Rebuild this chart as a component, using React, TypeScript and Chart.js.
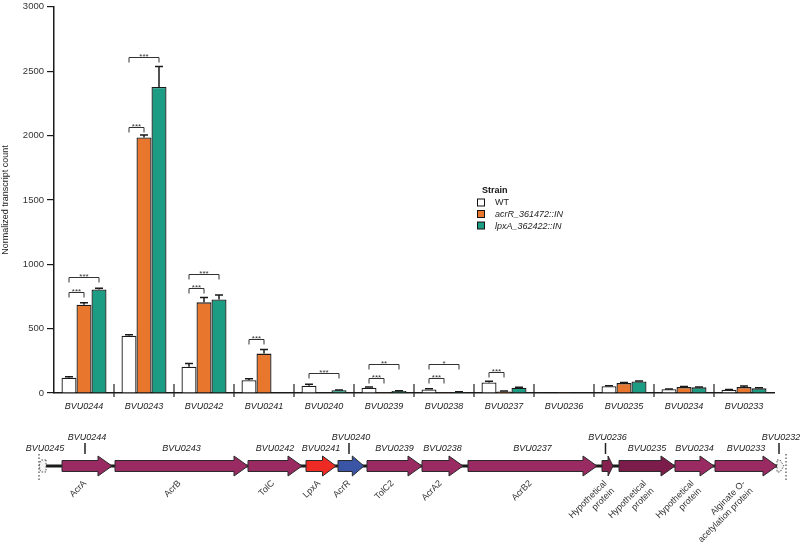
import { useEffect, useRef } from 'react';
import { Chart, registerables } from 'chart.js';

Chart.register(...registerables);

// ---------------- data ----------------
const categories = ['BVU0244', 'BVU0243', 'BVU0242', 'BVU0241', 'BVU0240', 'BVU0239', 'BVU0238', 'BVU0237', 'BVU0236', 'BVU0235', 'BVU0234', 'BVU0233'];
const seriesNames = ['WT', 'acrR_361472::IN', 'lpxA_362422::IN'];
const wtValues = [118, 445, 204, 99, 56, 41, 28, 82, 2, 52, 29, 25];
const acrRValues = [686, 1985, 704, 306, 0, 1, 1, 12, 1, 77, 46, 46];
const lpxAValues = [804, 2377, 726, null, 21, 15, 8, 41, 3, 90, 44, 36];
const wtErrors = [8, 8, 26, 12, 11, 5, 5, 10, 0, 5, 3, 3];
const acrRErrors = [15, 20, 38, 31, 0, 0, 0, 3, 0, 4, 4, 8];
const lpxAErrors = [10, 160, 36, 0, 3, 3, 2, 3, 0, 4, 3, 5];
const yTickValues = [0, 500, 1000, 1500, 2000, 2500, 3000];

// significance brackets
const bracketCategory = ['BVU0244', 'BVU0244', 'BVU0243', 'BVU0243', 'BVU0242', 'BVU0242', 'BVU0241', 'BVU0240', 'BVU0239', 'BVU0239', 'BVU0238', 'BVU0238', 'BVU0237'];
const bracketFrom = [0, 0, 0, 0, 0, 0, 0, 0, 0, 0, 0, 0, 0];
const bracketTo = [1, 2, 1, 2, 1, 2, 1, 2, 1, 2, 1, 2, 1];
const bracketLevel = [786, 900, 2066, 2611, 815, 928, 422, 152, 118, 229, 118, 229, 162];
const bracketLabel = ['***', '***', '***', '***', '***', '***', '***', '***', '***', '**', '***', '*', '***'];

// gene map (map units)
const geneIds = ['BVU0244', 'BVU0243', 'BVU0242', 'BVU0241', 'BVU0240', 'BVU0239', 'BVU0238', 'BVU0237', 'BVU0236', 'BVU0235', 'BVU0234', 'BVU0233'];
const geneStart = [62, 115, 248, 306, 338, 367, 422, 468, 602, 619, 675, 715];
const geneEnd = [112, 248, 302, 336, 364, 422, 463, 597, 613, 675, 714, 777];
const geneRaised = [true, false, false, false, true, false, false, false, true, false, false, false];
const proteinNames = ['AcrA', 'AcrB', 'TolC', 'LpxA', 'AcrR', 'TolC2', 'AcrA2', 'AcrB2', 'Hypothetical\nprotein', 'Hypothetical\nprotein', 'Hypothetical\nprotein', 'Alginate O-\nacetylation protein'];
const geneColors = ['#9a2a62', '#9a2a62', '#9a2a62', '#ee2a24', '#3b55a6', '#9a2a62', '#9a2a62', '#9a2a62', '#86204f', '#7c1c4a', '#9a2a62', '#9a2a62'];

const FONT = '"Liberation Sans", Arial, Helvetica, sans-serif';
const seriesColors = ['#ffffff', '#e8762d', '#1d9c84'];

const errorBarsPlugin = {
  id: 'errorBars',
  afterDatasetsDraw(chart: any) {
    const ctx = chart.ctx;
    const y = chart.scales.y;
    const errs = [wtErrors, acrRErrors, lpxAErrors];
    ctx.save();
    ctx.strokeStyle = '#1a1a1a';
    ctx.lineWidth = 1.5;
    chart.data.datasets.forEach((ds: any, di: number) => {
      const meta = chart.getDatasetMeta(di);
      meta.data.forEach((bar: any, i: number) => {
        const v = ds.data[i];
        const e = errs[di][i];
        if (v == null || !e) return;
        const top = y.getPixelForValue(v + e);
        ctx.beginPath();
        ctx.moveTo(bar.x, bar.y);
        ctx.lineTo(bar.x, top);
        ctx.moveTo(bar.x - 4, top);
        ctx.lineTo(bar.x + 4, top);
        ctx.stroke();
      });
    });
    ctx.restore();
  },
};

const bracketsPlugin = {
  id: 'brackets',
  afterDatasetsDraw(chart: any) {
    const ctx = chart.ctx;
    const y = chart.scales.y;
    ctx.save();
    ctx.strokeStyle = '#333';
    ctx.fillStyle = '#333';
    ctx.lineWidth = 1;
    ctx.font = `8px ${FONT}`;
    ctx.textAlign = 'center';
    ctx.textBaseline = 'alphabetic';
    bracketCategory.forEach((cat, k) => {
      const ci = categories.indexOf(cat);
      const a = chart.getDatasetMeta(bracketFrom[k]).data[ci];
      const b = chart.getDatasetMeta(bracketTo[k]).data[ci];
      const yy = Math.round(y.getPixelForValue(bracketLevel[k])) + 0.5;
      ctx.beginPath();
      ctx.moveTo(a.x, yy + 5);
      ctx.lineTo(a.x, yy);
      ctx.lineTo(b.x, yy);
      ctx.lineTo(b.x, yy + 5);
      ctx.stroke();
      ctx.fillText(bracketLabel[k], (a.x + b.x) / 2, yy + 1);
    });
    ctx.restore();
  },
};

const separatorsPlugin = {
  id: 'separators',
  afterDraw(chart: any) {
    const ctx = chart.ctx;
    const x = chart.scales.x;
    const y0 = chart.chartArea.bottom;
    ctx.save();
    ctx.strokeStyle = '#222';
    ctx.lineWidth = 1.2;
    for (let i = 1; i < categories.length; i++) {
      const px = (x.getPixelForTick(i - 1) + x.getPixelForTick(i)) / 2;
      ctx.beginPath();
      ctx.moveTo(px, y0 - 9);
      ctx.lineTo(px, y0 + 4);
      ctx.stroke();
    }
    ctx.restore();
  },
};

const legendPlugin = {
  id: 'customLegend',
  afterDraw(chart: any) {
    const ctx = chart.ctx;
    const lx = 477;
    const ly = 191;
    ctx.save();
    ctx.fillStyle = '#111';
    ctx.textBaseline = 'middle';
    ctx.textAlign = 'left';
    ctx.font = `bold 9px ${FONT}`;
    ctx.fillText('Strain', lx + 5, ly);
    seriesNames.forEach((name, i) => {
      const cy = ly + 11.5 * (i + 1);
      ctx.fillStyle = seriesColors[i];
      ctx.fillRect(lx, cy - 3.5, 7, 7);
      ctx.strokeStyle = '#111';
      ctx.lineWidth = 1;
      ctx.strokeRect(lx + 0.5, cy - 3.5, 7, 7);
      ctx.fillStyle = '#222';
      ctx.font = `${i === 0 ? '' : 'italic '}9px ${FONT}`;
      ctx.fillText(name, lx + 18, cy + 0.5);
    });
    ctx.restore();
  },
};

const geneMapPlugin = {
  id: 'geneMap',
  afterDraw(chart: any) {
    const ctx = chart.ctx;
    const yc = 466;
    const bodyH = 11;
    const headH = 20;
    ctx.save();
    // backbone
    ctx.strokeStyle = '#1a1a1a';
    ctx.lineWidth = 3;
    ctx.beginPath();
    ctx.moveTo(45, yc);
    ctx.lineTo(778, yc);
    ctx.stroke();

    // partial genes at the edges
    ctx.setLineDash([1.5, 1.5]);
    ctx.lineWidth = 1;
    ctx.strokeStyle = '#555';
    ctx.fillStyle = '#f4f4f4';
    ctx.beginPath();
    ctx.moveTo(46, yc - 6);
    ctx.lineTo(41, yc - 6);
    ctx.quadraticCurveTo(38, yc, 41, yc + 6);
    ctx.lineTo(46, yc + 6);
    ctx.closePath();
    ctx.fill();
    ctx.stroke();
    ctx.beginPath();
    ctx.moveTo(777, yc - 6);
    ctx.lineTo(780, yc - 6);
    ctx.lineTo(784, yc);
    ctx.lineTo(780, yc + 6);
    ctx.lineTo(777, yc + 6);
    ctx.closePath();
    ctx.fill();
    ctx.stroke();
    ctx.strokeStyle = '#222';
    ctx.setLineDash([1.5, 2]);
    ctx.beginPath();
    ctx.moveTo(39, yc - 12);
    ctx.lineTo(39, yc + 14);
    ctx.moveTo(786, yc - 12);
    ctx.lineTo(786, yc + 14);
    ctx.stroke();
    ctx.setLineDash([]);

    // genes
    geneIds.forEach((id, i) => {
      const x0 = geneStart[i];
      const x1 = geneEnd[i];
      const hl = Math.min(14, (x1 - x0) * 0.45);
      const xb = x1 - hl;
      ctx.beginPath();
      ctx.moveTo(x0, yc - bodyH / 2);
      ctx.lineTo(xb, yc - bodyH / 2);
      ctx.lineTo(xb, yc - headH / 2);
      ctx.lineTo(x1, yc);
      ctx.lineTo(xb, yc + headH / 2);
      ctx.lineTo(xb, yc + bodyH / 2);
      ctx.lineTo(x0, yc + bodyH / 2);
      ctx.closePath();
      ctx.fillStyle = geneColors[i];
      ctx.fill();
      ctx.strokeStyle = '#2a2a2a';
      ctx.lineWidth = 1;
      ctx.stroke();
    });

    // gene ids
    ctx.fillStyle = '#222';
    ctx.font = `italic 9px ${FONT}`;
    ctx.textAlign = 'center';
    ctx.textBaseline = 'middle';
    const drawId = (label: string, cx: number, raised: boolean) => {
      if (raised) {
        ctx.fillText(label, cx, 437);
        ctx.strokeStyle = '#222';
        ctx.lineWidth = 1.5;
        ctx.beginPath();
        ctx.moveTo(cx - 2, 443);
        ctx.lineTo(cx - 2, 454);
        ctx.stroke();
      } else {
        ctx.fillText(label, cx, 448);
      }
    };
    drawId('BVU0245', 45, false);
    geneIds.forEach((id, i) => drawId(id, (geneStart[i] + geneEnd[i]) / 2, geneRaised[i]));
    drawId('BVU0232', 781, true);

    // protein labels
    ctx.font = `9px ${FONT}`;
    ctx.fillStyle = '#333';
    ctx.textAlign = 'right';
    ctx.textBaseline = 'middle';
    proteinNames.forEach((name, i) => {
      const cx = (geneStart[i] + geneEnd[i]) / 2 - 2;
      const lines = name.split('\n');
      ctx.save();
      ctx.translate(cx, 482);
      ctx.rotate(-Math.PI / 4);
      lines.forEach((ln, j) => ctx.fillText(ln, 0, j * 10.5));
      ctx.restore();
    });
    ctx.restore();
  },
};

export default function App() {
  const ref = useRef<HTMLCanvasElement | null>(null);
  useEffect(() => {
    if (!ref.current) return;
    const chart = new Chart(ref.current, {
      type: 'bar',
      data: {
        labels: categories,
        datasets: [
          { label: seriesNames[0], data: wtValues, backgroundColor: seriesColors[0], borderColor: '#1a1a1a', borderWidth: 1.3 },
          { label: seriesNames[1], data: acrRValues, backgroundColor: seriesColors[1], borderColor: '#1a1a1a', borderWidth: 1.3 },
          { label: seriesNames[2], data: lpxAValues as any, backgroundColor: seriesColors[2], borderColor: '#1a1a1a', borderWidth: 1.3 },
        ],
      },
      options: {
        animation: false,
        responsive: false,
        datasets: { bar: { barPercentage: 1, categoryPercentage: 0.75 } },
        layout: { padding: { left: 0, right: 26, top: 4, bottom: 123 } },
        plugins: { legend: { display: false }, tooltip: { enabled: false } },
        scales: {
          x: {
            offset: true,
            grid: { display: false },
            border: { display: true, color: '#1a1a1a', width: 1.5 },
            ticks: { color: '#222', font: { family: FONT, size: 9, style: 'italic' }, padding: 0, maxRotation: 0, autoSkip: false },
            afterFit: (s: any) => { s.height = 30; },
          },
          y: {
            min: 0,
            max: 3000,
            afterBuildTicks: (s: any) => { s.ticks = yTickValues.map((v) => ({ value: v })); },
            grid: { drawOnChartArea: false, tickLength: 7, color: '#1a1a1a', lineWidth: 1.2 },
            border: { display: true, color: '#1a1a1a', width: 1.5 },
            ticks: { color: '#333', font: { family: FONT, size: 9.5, lineHeight: 0.8 }, padding: 3, callback: (v: any) => String(v) },
            title: { display: true, text: 'Normalized transcript count', color: '#222', font: { family: FONT, size: 9 }, padding: 0 },
            afterFit: (s: any) => { s.width = 54; },
          },
        },
      },
      plugins: [errorBarsPlugin, bracketsPlugin, separatorsPlugin, legendPlugin, geneMapPlugin],
    });
    return () => chart.destroy();
  }, []);
  return (
    <div style={{ position: 'fixed', left: 0, top: 0, width: 800, height: 546, background: '#fff' }}>
      <canvas ref={ref} width={800} height={546} style={{ display: 'block' }} />
    </div>
  );
}
